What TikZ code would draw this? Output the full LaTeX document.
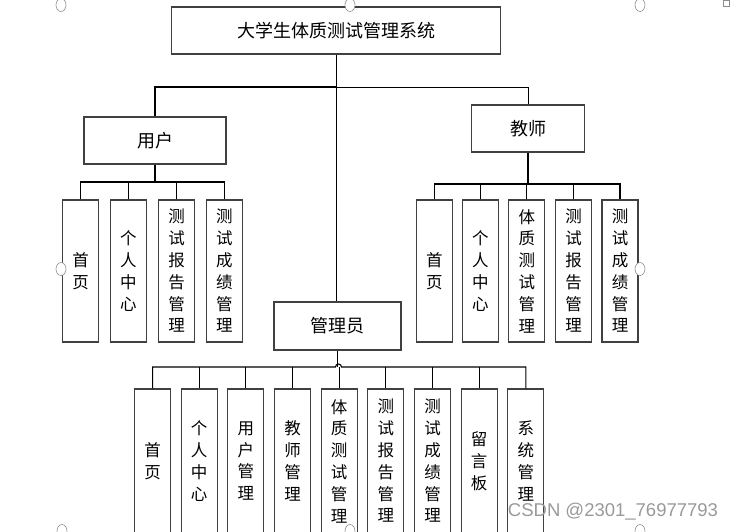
\documentclass[tikz,border=0pt]{standalone}
\usepackage{fontspec}
\newfontfamily\cjk{Noto Sans CJK SC}
\newfontfamily\wmfont{Liberation Sans}
\usetikzlibrary{shapes.geometric}
\tikzset{
  box/.style={draw=black!75, line width=1.1pt, fill=white, inner sep=0pt, font=\cjk\fontsize{18}{20}\selectfont},
  vbox/.style={draw=black!75, line width=1.1pt, fill=white, inner sep=0pt, minimum width=36pt, align=center, font=\cjk\fontsize{16.5}{21.8}\selectfont},
  conn/.style={draw=black, line width=1.1pt},
  thinconn/.style={draw=black, line width=0.8pt},
  handle/.style={draw=black!45, line width=0.6pt, fill=white, ellipse, minimum width=10pt, minimum height=13pt, inner sep=0pt},
}
\begin{document}
\begin{tikzpicture}[x=1pt,y=-1pt]
\useasboundingbox (0,0) rectangle (734,531);
\begin{scope}
\clip (0,0) rectangle (734,531);
% top level
\node[box, minimum width=329pt, minimum height=47pt] (title) at (336,30.5) {大学生体质测试管理系统};
\node[box, minimum width=142pt, minimum height=47pt] (user) at (155,140.5) {用户};
\node[box, minimum width=113pt, minimum height=47pt] (teacher) at (528,128.5) {教师};
\node[box, minimum width=127pt, minimum height=48pt] (admin) at (337.5,326) {管理员};
% user children
\node[vbox, minimum height=142pt] (u1) at (80.5,271) {首\\页};
\node[vbox, minimum height=142pt] (u2) at (128.3,271) {个\\人\\中\\心};
\node[vbox, minimum height=142pt] (u3) at (176.5,271) {测\\试\\报\\告\\管\\理};
\node[vbox, minimum height=142pt] (u4) at (224.3,271) {测\\试\\成\\绩\\管\\理};
% teacher children
\node[vbox, minimum height=142pt] (t1) at (434.3,271) {首\\页};
\node[vbox, minimum height=142pt] (t2) at (480.3,271) {个\\人\\中\\心};
\node[vbox, minimum height=142pt] (t3) at (526.8,271) {体\\质\\测\\试\\管\\理};
\node[vbox, minimum height=142pt] (t4) at (573.5,271) {测\\试\\报\\告\\管\\理};
\node[vbox, minimum height=142pt] (t5) at (620,271) {测\\试\\成\\绩\\管\\理};
% admin children
\node[vbox, minimum height=144pt] (a1) at (152.6,461) {首\\页};
\node[vbox, minimum height=144pt] (a2) at (199.2,461) {个\\人\\中\\心};
\node[vbox, minimum height=144pt] (a3) at (245.8,461) {用\\户\\管\\理};
\node[vbox, minimum height=144pt] (a4) at (292.5,461) {教\\师\\管\\理};
\node[vbox, minimum height=144pt] (a5) at (339.2,461) {体\\质\\测\\试\\管\\理};
\node[vbox, minimum height=144pt] (a6) at (385.8,461) {测\\试\\报\\告\\管\\理};
\node[vbox, minimum height=144pt] (a7) at (432.5,461) {测\\试\\成\\绩\\管\\理};
\node[vbox, minimum height=144pt] (a8) at (479.2,461) {留\\言\\板};
\node[vbox, minimum height=144pt] (a9) at (525.8,461) {系\\统\\管\\理};
\end{scope}
% connectors: top
\coordinate (tb) at (336,87);
\draw[thinconn] (title.south) -- (title.south |- admin.north);
\draw[conn] (user.north) |- (tb);
\draw[thinconn] (tb) -| (teacher.north);
% user bus
\coordinate (ub) at (155,182);
\draw[conn] (user.south) -- (user.south |- ub);
\draw[conn] (u1.north) |- (ub) -| (u4.north);
\draw[conn] (u2.north) -- (u2.north |- ub);
\draw[conn] (u3.north) -- (u3.north |- ub);
% teacher bus
\coordinate (tbus) at (528,184);
\draw[conn] (teacher.south) -- (teacher.south |- tbus);
\draw[conn] (t1.north) |- (tbus) -| (t5.north);
\draw[conn] (t2.north) -- (t2.north |- tbus);
\draw[conn] (t3.north) -- (t3.north |- tbus);
\draw[conn] (t4.north) -- (t4.north |- tbus);
% admin bus with hop
\coordinate (ab) at (337.5,367);
\coordinate (hopl) at (335.5,367);
\draw[conn] (admin.south) -- (admin.south |- ab);
\draw[conn] (a1.north) |- (hopl) arc[start angle=180, end angle=0, radius=3pt] -| (a9.north);
\foreach \i in {2,...,8} {\draw[conn] (a\i.north) -- (a\i.north |- ab);}
% canvas handles
\node[handle] (h1) at (61,5) {};
\node[handle] (h2) at (350,5) {};
\node[handle] (h3) at (640,5) {};
\node[handle] (h4) at (61,269) {};
\node[handle] (h5) at (640,269) {};
\node[handle] (h6) at (62,531) {};
\node[handle] (h7) at (350,531) {};
\node[handle] (h8) at (640,531) {};
\node[draw=black!45, line width=0.6pt, minimum size=6pt, inner sep=0pt] (h9) at (726,3) {};
% watermark
\node[text=black!40, font=\wmfont\fontsize{18.5}{20}\selectfont, inner sep=0pt] (wm) at (613,512) {CSDN @2301\_76977793};
\end{tikzpicture}
\end{document}
